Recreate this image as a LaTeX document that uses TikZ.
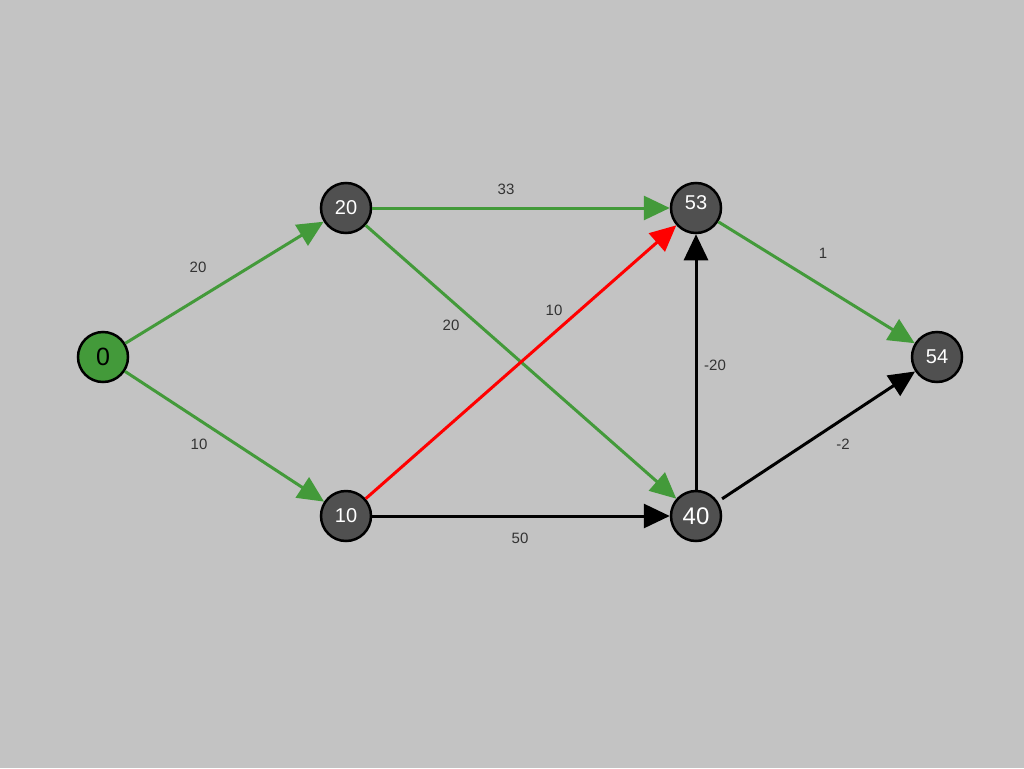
\documentclass[tikz,border=0pt]{standalone}
\usepackage{fontspec}
\setmainfont{Liberation Sans}
\usetikzlibrary{arrows.meta}
\definecolor{bg}{RGB}{195,195,195}
\definecolor{gr}{RGB}{67,154,58}
\definecolor{nodefill}{RGB}{80,80,80}
\definecolor{lbl}{RGB}{51,51,51}
\definecolor{rd}{RGB}{255,0,0}
\begin{document}
\begin{tikzpicture}[x=1pt,y=-1pt,
  vnode/.style={circle,minimum size=50pt,inner sep=0pt,draw=black,line width=2.5pt,fill=nodefill,text=white,font=\fontsize{20}{22}\selectfont},
  vtext/.style={inner sep=0pt,text=white,font=\fontsize{20}{22}\selectfont},
  edge/.style={line width=3pt,-{Triangle[length=26pt,width=24pt]}},
  elbl/.style={text=lbl,font=\fontsize{15}{17}\selectfont,inner sep=0pt}]
\fill[bg] (0,0) rectangle (1024,768);
\useasboundingbox (0,0) rectangle (1024,768);
\node[vnode,fill=gr,text=black,font=\fontsize{25}{27}\selectfont] (n0) at (103,357) {0};
\node[vnode] (n20) at (346,208) {20};
\node[vnode] (n10) at (346,516) {10};
\node[vnode] (n53) at (696,208) {};
\node[vtext] (t53) at (696,203) {53};
\node[vnode,font=\fontsize{24}{26}\selectfont] (n40) at (696,516) {40};
\node[vnode] (n54) at (937,357) {54};
\draw[edge,draw=gr,fill=gr] (n0) -- (n20);
\draw[edge,draw=gr,fill=gr] (n0) -- (n10);
\draw[edge,draw=gr,fill=gr] (n20) -- (n53);
\draw[edge,draw=gr,fill=gr] (n20) -- (n40);
\draw[edge,draw=rd,fill=rd] (n10) -- (n53);
\draw[edge,draw=black] (n10) -- (n40);
\draw[edge,draw=black] (n40) -- (n53);
\draw[edge,draw=gr,fill=gr] (n53) -- (n54);
\draw[edge,draw=black,shorten <=5pt] (n40) -- (n54);
\node[elbl] (l1) at (198,267) {20};
\node[elbl] (l2) at (199,444) {10};
\node[elbl] (l3) at (506,189) {33};
\node[elbl] (l4) at (451,325) {20};
\node[elbl] (l5) at (554,310) {10};
\node[elbl] (l6) at (520,538) {50};
\node[elbl] (l7) at (715,365) {-20};
\node[elbl] (l8) at (823,253) {1};
\node[elbl] (l9) at (843,444) {-2};
\end{tikzpicture}
\end{document}
